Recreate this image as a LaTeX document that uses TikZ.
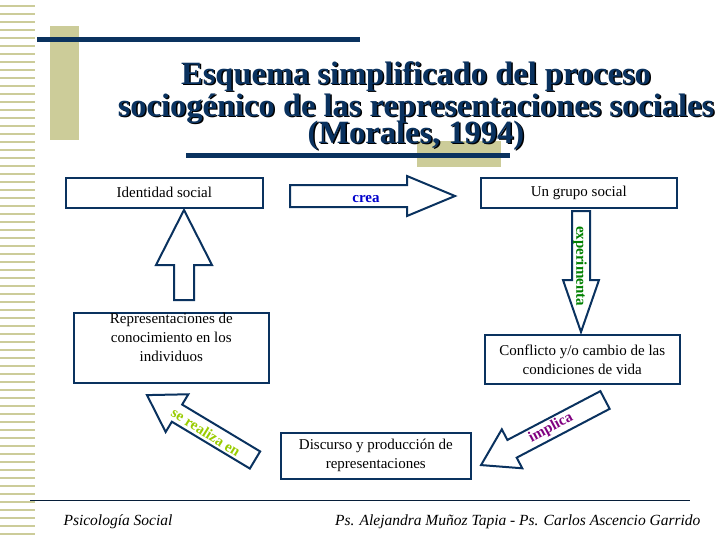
\documentclass[tikz,border=0pt]{standalone}
\usepackage{fontspec}
\setmainfont{Liberation Serif}
\definecolor{navy}{RGB}{10,50,95}
\definecolor{khaki}{RGB}{204,204,153}
\definecolor{crb}{RGB}{0,0,204}
\definecolor{exg}{RGB}{0,128,0}
\definecolor{imp}{RGB}{128,0,128}
\definecolor{sre}{RGB}{153,204,0}
\tikzset{
 bx/.style={draw=navy,line width=1.6pt,align=center,font=\fontsize{15}{19}\selectfont,inner sep=0pt},
 lab/.style={font=\bfseries\fontsize{15}{16}\selectfont},
 pics/barrow/.style args={#1/#2/#3/#4}{code={
  \draw[navy,line width=2pt,fill=white,line join=miter] (0,-#2) -- (#1-#4,-#2) -- (#1-#4,-#3) -- (#1,0) -- (#1-#4,#3) -- (#1-#4,#2) -- (0,#2) -- cycle;}},
}
\begin{document}
\begin{tikzpicture}[x=1pt,y=-1pt]
\useasboundingbox (0,0) rectangle (728,546);
\foreach \y in {6,14,...,540} \draw[khaki,line width=1.3pt] (0,\y) -- (35,\y);
\fill[khaki] (50,26) rectangle (79,140);
\fill[khaki] (417,141) rectangle (501,167);
\fill[navy] (37,37) rectangle (360,42);
\fill[navy] (186,153) rectangle (510,158);
\foreach \dx/\c in {1.5/black,0/navy}{
\node[text=\c,font=\bfseries\fontsize{32.5}{34}\selectfont,anchor=base] at (416+\dx,84+\dx) (ta\c) {Esquema simplificado del proceso};
\node[text=\c,font=\bfseries\fontsize{32.5}{34}\selectfont,anchor=base] at (416+\dx,116+\dx) (tb\c) {sociogénico de las representaciones sociales};
\node[text=\c,font=\bfseries\fontsize{32.5}{34}\selectfont,anchor=base] at (416+\dx,143+\dx) (tc\c) {(Morales, 1994)};}
\node[bx,minimum width=197pt,minimum height=30pt,anchor=north west] (id) at (65,177) {Identidad social};
\node[bx,minimum width=196pt,minimum height=30pt,anchor=north west] (gr) at (480,177) {Un grupo social};
\node[bx,minimum width=195pt,minimum height=69pt,anchor=north west] (rep) at (73,312) {Representaciones de\\conocimiento en los\\individuos\\[3pt]};
\node[bx,minimum width=195pt,minimum height=49pt,anchor=north west] (con) at (484,334) {Conflicto y/o cambio de las\\condiciones de vida};
\node[bx,minimum width=190pt,minimum height=46pt,anchor=north west] (dis) at (280,432) {Discurso y producción de\\representaciones};
\pic at (290,196) {barrow={165/11/20/48}};
\node[lab,text=crb] (crea) at (366,199) {crea};
\pic[rotate=90] at (184,300) {barrow={90/10/28/55}};
\pic[rotate=-90] at (581,211) {barrow={121/9/18/52}};
\node[lab,text=exg,rotate=-90] (ex) at (580,266) {experimenta};
\pic[rotate=149] at (255,460) {barrow={126/10/22/35}};
\node[lab,text=sre,rotate=-32] (srt) at (206,432) {se realiza en};
\pic[rotate=-152.3] at (605,400) {barrow={140/10/22/35}};
\node[lab,text=imp,rotate=28] (imt) at (551,428) {implica};
\draw[navy!60!black,line width=0.6pt] (30,500) -- (690,500);
\node[font=\itshape\fontsize{15.5}{17}\selectfont,anchor=west] (f1) at (60,522) {Psicología Social};
\node[font=\itshape\fontsize{15.5}{17}\selectfont,anchor=east] (f2) at (704,522) {Ps. Alejandra Muñoz Tapia - Ps. Carlos Ascencio Garrido};
\end{tikzpicture}
\end{document}
